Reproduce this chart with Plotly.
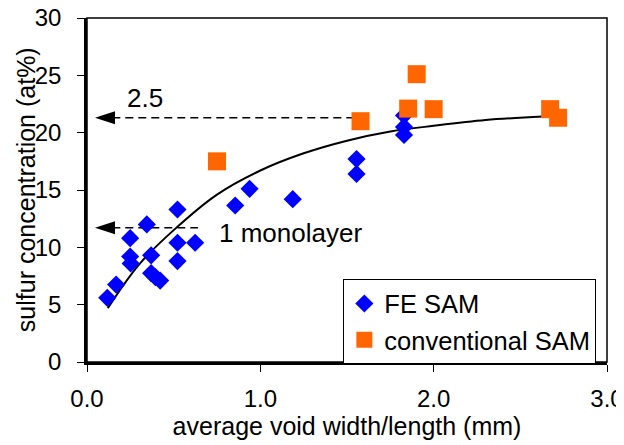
import plotly.graph_objects as go

# FE SAM (blue diamonds)
fe_x = [0.117, 0.168, 0.249, 0.249, 0.252, 0.345, 0.370, 0.370, 0.395, 0.422,
        0.522, 0.522, 0.522, 0.624, 0.855, 0.938, 1.187, 1.555, 1.555,
        1.829, 1.829, 1.829]
fe_y = [5.6, 6.75, 10.8, 9.2, 8.6, 12.0, 9.3, 7.75, 7.4, 7.1,
        13.3, 10.4, 8.8, 10.4, 13.65, 15.1, 14.2, 17.7, 16.4,
        21.5, 20.5, 19.8]

# conventional SAM (orange squares)
conv_x = [0.75, 1.578, 1.853, 1.902, 2.0, 2.672, 2.718]
conv_y = [17.5, 21.0, 22.1, 25.1, 22.05, 22.05, 21.3]

# trend curve
trend_x = [0.12, 0.3, 0.5, 0.75, 1.0, 1.25, 1.5, 1.75, 2.0, 2.3, 2.63]
trend_y = [4.7, 8.5, 11.5, 14.6, 16.7, 18.2, 19.3, 20.1, 20.6, 21.1, 21.4]

# dashed arrows
arrow_y = [21.3, 11.7]
arrow_tip_x = [0.046, 0.046]
arrow_end_x = [1.55, 0.64]
arrow_labels = ["2.5", "1 monolayer"]
label_x = [0.22, 0.75]
label_y = [23.0, 11.25]

FONT = "Liberation Sans, Arial, sans-serif"
F_TITLE = dict(family=FONT, size=25, color="black")
F_TICK = dict(family=FONT, size=24, color="black")
F_TEXT = dict(family=FONT, size=26, color="black")
F_LEG = dict(family=FONT, size=25.5, color="black")

fig = go.Figure()

fig.add_trace(go.Scatter(x=trend_x, y=trend_y, mode="lines",
                         line=dict(color="black", width=2, shape="spline"),
                         showlegend=False, hoverinfo="skip"))

for ty, tx, ex in zip(arrow_y, arrow_tip_x, arrow_end_x):
    fig.add_trace(go.Scatter(x=[tx + 0.1, ex], y=[ty, ty], mode="lines",
                             line=dict(color="black", width=1.5, dash="8px,5px"),
                             showlegend=False, hoverinfo="skip"))
    fig.add_shape(type="path", xref="x", yref="y",
                  xsizemode="pixel", ysizemode="pixel",
                  xanchor=tx, yanchor=ty,
                  path="M0,0 L20,6.5 L20,-6.5 Z",
                  fillcolor="black", line=dict(color="black", width=0))

fig.add_trace(go.Scatter(x=fe_x, y=fe_y, mode="markers", name="FE SAM",
                         marker=dict(symbol="diamond", size=14, color="#0000FF",
                                     line=dict(width=0))))
fig.add_trace(go.Scatter(x=conv_x, y=conv_y, mode="markers", name="conventional SAM",
                         marker=dict(symbol="square", size=18, color="#FF6600",
                                     line=dict(width=0))))

for t, lx, ly in zip(arrow_labels, label_x, label_y):
    fig.add_annotation(x=lx, y=ly, text=t, showarrow=False, xanchor="left",
                       yanchor="middle", font=F_TEXT)

# y axis title
fig.add_annotation(x=-0.117, y=0.5, xref="paper", yref="paper",
                   text="sulfur concentration (at%)", textangle=-90,
                   showarrow=False, xanchor="center", yanchor="middle", font=F_TITLE)

# thin frame
fig.add_shape(type="rect", xref="paper", yref="paper", x0=0, y0=0, x1=1, y1=1,
              line=dict(color="black", width=1.5), layer="above")

# page body has an 8px margin, so the figure is 616x437 and margins compensate
fig.update_layout(
    width=616, height=437,
    margin=dict(l=79, r=17, t=10, b=83),
    paper_bgcolor="white", plot_bgcolor="white",
    font=F_TITLE,
    showlegend=True,
    legend=dict(x=0.493, y=0.24, xanchor="left", yanchor="top",
                bordercolor="black", borderwidth=1, bgcolor="white",
                font=F_LEG, itemwidth=30, tracegroupgap=0),
    xaxis=dict(range=[0, 3], dtick=1, tickformat=".1f", showgrid=False,
               zeroline=False, showline=True, linecolor="black", linewidth=2.5,
               ticks="outside", ticklen=7, tickcolor="black", tickwidth=1,
               tickfont=F_TICK, automargin=False, ticklabelstandoff=6,
               ticklabeloverflow="allow",
               title=dict(text="average void width/length (mm)", font=F_TITLE, standoff=2)),
    yaxis=dict(range=[0, 30], dtick=5, showgrid=False, zeroline=False,
               showline=True, linecolor="black", linewidth=2.5,
               ticks="outside", ticklen=7, tickcolor="black", tickwidth=1,
               tickfont=F_TICK, automargin=False, ticklabelstandoff=11,
               ticklabeloverflow="allow"),
)

fig.write_html("out.html")
